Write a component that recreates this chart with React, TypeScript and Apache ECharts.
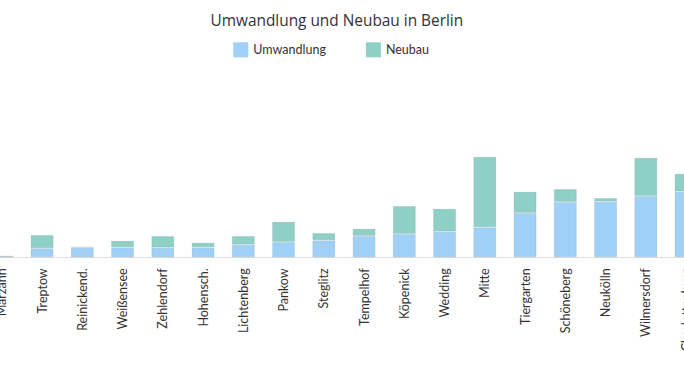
import React, { useEffect, useRef } from "react";
import * as echarts from "echarts";

const categories = [
  "Marzahn", "Treptow", "Reinickend.", "Weißensee", "Zehlendorf", "Hohensch.",
  "Lichtenberg", "Pankow", "Steglitz", "Tempelhof", "Köpenick", "Wedding",
  "Mitte", "Tiergarten", "Schöneberg", "Neukölln", "Wilmersdorf", "Charlottenburg",
];
const umwandlung = [1, 9, 9.6, 10, 9.6, 10, 12.6, 15.3, 17, 21.3, 23.3, 25.6, 30, 44.3, 55.3, 55.6, 61.3, 65.6];
const neubau = [0, 13.3, 0.6, 6.6, 11.7, 4.6, 8.7, 20.3, 7.3, 7.3, 28, 23, 70.6, 21.3, 13, 3.7, 38.3, 18];

const FONT = "Lato, 'Noto Sans', sans-serif";

export default function App() {
  const ref = useRef<HTMLDivElement>(null);
  useEffect(() => {
    if (!ref.current) return;
    const chart = echarts.init(ref.current, undefined, { renderer: "svg" });
    chart.setOption({
      animation: false,
      textStyle: { fontFamily: FONT },
      title: {
        text: "Umwandlung und Neubau in Berlin",
        left: 230.5,
        top: 12.5,
        padding: 0,
        textStyle: { fontFamily: "'Open Sans', sans-serif", fontSize: 15.4, fontWeight: "normal", color: "#333" },
      },
      legend: {
        left: 253.3,
        top: 42.3,
        padding: 0,
        itemWidth: 15,
        itemHeight: 15,
        itemGap: 40,
        itemStyle: { borderWidth: 0 },
        textStyle: { fontFamily: FONT, fontSize: 12.5, color: "#333", padding: [0, 0, 0, 0] },
        icon: "rect",
        data: ["Umwandlung", "Neubau"],
      },
      grid: { left: 1.7, right: 3.8, top: 107.3, bottom: 115.7 },
      xAxis: {
        type: "category",
        data: categories,
        axisLine: { lineStyle: { color: "#ddd" } },
        axisTick: { length: 5, lineStyle: { color: "#ccc" } },
        axisLabel: { rotate: 90, margin: 11, fontSize: 12.5, color: "#333", fontFamily: FONT },
      },
      yAxis: {
        type: "value",
        min: 0,
        max: 150,
        show: false,
        splitLine: { show: false },
      },
      series: [
        {
          name: "Umwandlung",
          type: "bar",
          stack: "total",
          barWidth: 23,
          data: umwandlung,
          itemStyle: { color: "#a0d0f6", borderColor: "rgba(90,120,140,0.15)", borderWidth: 1 },
        },
        {
          name: "Neubau",
          type: "bar",
          stack: "total",
          barWidth: 23,
          data: neubau,
          itemStyle: { color: "#8ecfc6", borderColor: "rgba(90,120,120,0.15)", borderWidth: 1 },
        },
      ],
    });
    return () => chart.dispose();
  }, []);
  return (
    <div style={{ position: "fixed", left: 0, top: 0, width: 684, height: 373, overflow: "hidden", background: "#fff" }}>
      <div ref={ref} style={{ position: "absolute", left: -20, top: 0, width: 730, height: 373 }} />
    </div>
  );
}
